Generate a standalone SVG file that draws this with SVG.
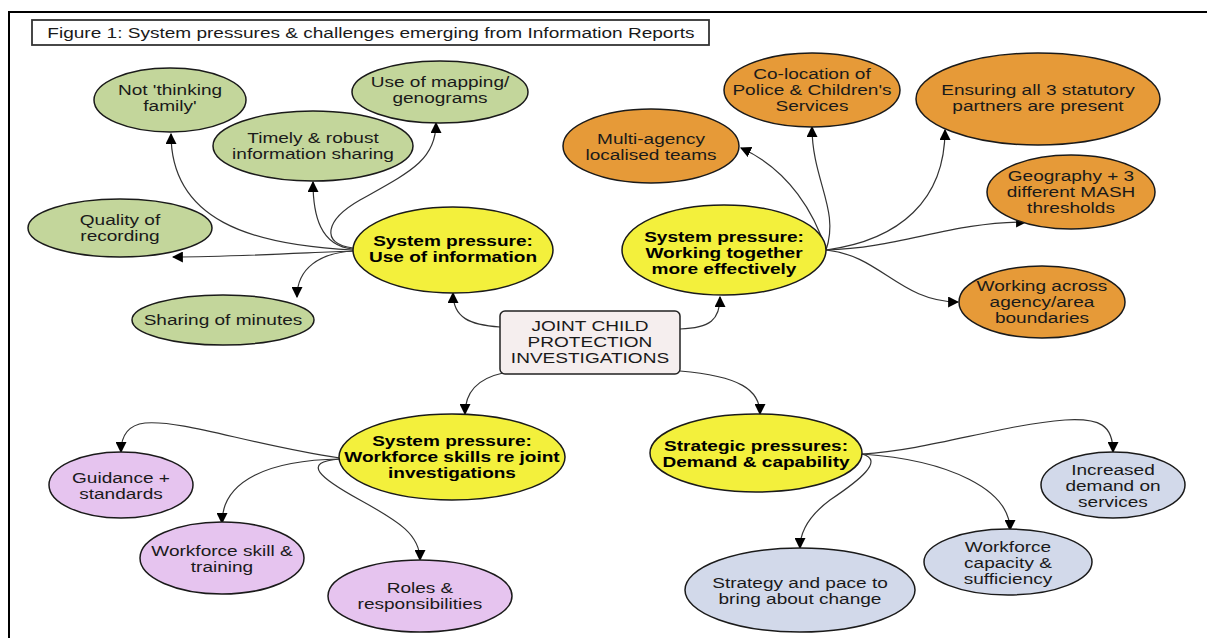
<svg xmlns="http://www.w3.org/2000/svg" width="1207" height="638" viewBox="0 0 1207 638">
<defs>
<marker id="ah" viewBox="0 0 10 10" refX="9" refY="5" markerWidth="11" markerHeight="11" markerUnits="userSpaceOnUse" orient="auto"><path d="M0,0 L10,5 L0,10 z" fill="#000"/></marker>
</defs>
<style>
text{font-family:"Liberation Sans",Arial,sans-serif;font-size:15px;fill:#1a1a1a;text-anchor:middle}
.b{font-weight:bold;fill:#000}
.n{stroke:#1a1a1a;stroke-width:1.5}
.g{fill:#c3d69b}.y{fill:#f3f03c}.o{fill:#e69a38}.p{fill:#e6c4ef}.s{fill:#d2d9ea}
#connectors path{fill:none;stroke:#333;stroke-width:1.2;marker-end:url(#ah)}
</style>
<rect width="1207" height="638" fill="#fff"/>
<path d="M9,638 V12 H1207" fill="none" stroke="#000" stroke-width="2"/>
<g id="title"><rect x="32" y="20" width="677" height="25" fill="#fff" stroke="#333" stroke-width="1.8"/><g transform="scale(1.27 1)"><text x="292.1" y="38">Figure 1: System pressures &amp; challenges emerging from Information Reports</text></g></g>
<g id="connectors">
<path d="M353,250 C250,245 171,220 171,134"/>
<path d="M353,249 C320,246 313,215 313,182"/>
<path d="M353,248 C320,244 325,220 360,200 C410,172 436,160 436,123"/>
<path d="M353,251 C300,253 230,257 173,257"/>
<path d="M353,251 C320,253 297,268 297,297"/>
<path d="M500,327 C470,325 453,318 453,293"/>
<path d="M680,329 C710,328 720,320 720,297"/>
<path d="M503,373 C480,378 465,390 465,414"/>
<path d="M680,371 C740,376 760,390 760,414"/>
<path d="M826,250 C815,215 790,170 741,148"/>
<path d="M826,250 C840,210 812,180 812,127"/>
<path d="M826,250 C900,240 945,200 945,130"/>
<path d="M826,250 C900,248 950,222 1026,222"/>
<path d="M826,250 C880,255 900,302 958,302"/>
<path d="M340,458 C250,445 185,420 145,423 C128,425 121,435 121,452"/>
<path d="M340,459 C270,460 222,480 222,523"/>
<path d="M340,459 C300,462 320,478 360,500 C400,522 420,535 420,560"/>
<path d="M862,454 C930,450 1000,425 1065,420 C1100,418 1113,425 1113,452"/>
<path d="M862,454 C950,460 1010,490 1010,530"/>
<path d="M862,454 C885,460 860,480 830,500 C810,515 800,530 800,548"/>
</g>
<g id="n-notthinking"><ellipse class="n g" cx="170" cy="100" rx="76" ry="32"/><g transform="scale(1.27 1)"><text x="133.86" y="95">Not 'thinking</text><text x="133.86" y="111">family'</text></g></g>
<g id="n-timely"><ellipse class="n g" cx="313" cy="146" rx="100" ry="35"/><g transform="scale(1.27 1)"><text x="246.46" y="143">Timely &amp; robust</text><text x="246.46" y="159">information sharing</text></g></g>
<g id="n-mapping"><ellipse class="n g" cx="440" cy="92" rx="88" ry="31"/><g transform="scale(1.27 1)"><text x="346.46" y="87">Use of mapping/</text><text x="346.46" y="103">genograms</text></g></g>
<g id="n-quality"><ellipse class="n g" cx="120" cy="228" rx="92" ry="29"/><g transform="scale(1.27 1)"><text x="94.49" y="225">Quality of</text><text x="94.49" y="241">recording</text></g></g>
<g id="n-minutes"><ellipse class="n g" cx="223" cy="320" rx="91" ry="25"/><g transform="scale(1.27 1)"><text x="175.59" y="325">Sharing of minutes</text></g></g>
<g id="n-useinfo"><ellipse class="n y" cx="453" cy="250" rx="100" ry="43"/><g transform="scale(1.27 1)"><text class="b" x="356.69" y="246">System pressure:</text><text class="b" x="356.69" y="262">Use of information</text></g></g>
<g id="n-center"><rect x="500" y="311" width="180" height="63" rx="5" fill="#f5eeee" stroke="#222" stroke-width="1.5"/><g transform="scale(1.27 1)"><text x="464.57" y="331">JOINT CHILD</text><text x="464.57" y="347">PROTECTION</text><text x="464.57" y="363">INVESTIGATIONS</text></g></g>
<g id="n-working"><ellipse class="n y" cx="724" cy="250" rx="102" ry="45"/><g transform="scale(1.27 1)"><text class="b" x="570.08" y="242">System pressure:</text><text class="b" x="570.08" y="258">Working together</text><text class="b" x="570.08" y="274">more effectively</text></g></g>
<g id="n-multi"><ellipse class="n o" cx="651" cy="146" rx="88" ry="37"/><g transform="scale(1.27 1)"><text x="512.6" y="144">Multi-agency</text><text x="512.6" y="160">localised teams</text></g></g>
<g id="n-coloc"><ellipse class="n o" cx="812" cy="90" rx="88" ry="37"/><g transform="scale(1.27 1)"><text x="639.37" y="79">Co-location of</text><text x="639.37" y="95">Police &amp; Children's</text><text x="639.37" y="111">Services</text></g></g>
<g id="n-ensuring"><ellipse class="n o" cx="1038" cy="99" rx="122" ry="46"/><g transform="scale(1.27 1)"><text x="817.32" y="95">Ensuring all 3 statutory</text><text x="817.32" y="111">partners are present</text></g></g>
<g id="n-geo"><ellipse class="n o" cx="1071" cy="192" rx="84" ry="37"/><g transform="scale(1.27 1)"><text x="843.31" y="181">Geography + 3</text><text x="843.31" y="197">different MASH</text><text x="843.31" y="213">thresholds</text></g></g>
<g id="n-across"><ellipse class="n o" cx="1042" cy="302" rx="83" ry="36"/><g transform="scale(1.27 1)"><text x="820.47" y="291">Working across</text><text x="820.47" y="307">agency/area</text><text x="820.47" y="323">boundaries</text></g></g>
<g id="n-workforce"><ellipse class="n y" cx="452" cy="457" rx="113" ry="43"/><g transform="scale(1.27 1)"><text class="b" x="355.91" y="446">System pressure:</text><text class="b" x="355.91" y="462">Workforce skills re joint</text><text class="b" x="355.91" y="478">investigations</text></g></g>
<g id="n-strategic"><ellipse class="n y" cx="756" cy="453" rx="106" ry="39"/><g transform="scale(1.27 1)"><text class="b" x="595.28" y="451">Strategic pressures:</text><text class="b" x="595.28" y="467">Demand &amp; capability</text></g></g>
<g id="n-guidance"><ellipse class="n p" cx="121" cy="485" rx="72" ry="33"/><g transform="scale(1.27 1)"><text x="95.28" y="483">Guidance +</text><text x="95.28" y="499">standards</text></g></g>
<g id="n-skill"><ellipse class="n p" cx="222" cy="558" rx="82" ry="36"/><g transform="scale(1.27 1)"><text x="174.8" y="556">Workforce skill &amp;</text><text x="174.8" y="572">training</text></g></g>
<g id="n-roles"><ellipse class="n p" cx="420" cy="596" rx="92" ry="36"/><g transform="scale(1.27 1)"><text x="330.71" y="593">Roles &amp;</text><text x="330.71" y="609">responsibilities</text></g></g>
<g id="n-demand"><ellipse class="n s" cx="1113" cy="485" rx="72" ry="33"/><g transform="scale(1.27 1)"><text x="876.38" y="475">Increased</text><text x="876.38" y="491">demand on</text><text x="876.38" y="507">services</text></g></g>
<g id="n-capacity"><ellipse class="n s" cx="1008" cy="562" rx="84" ry="33"/><g transform="scale(1.27 1)"><text x="793.7" y="552">Workforce</text><text x="793.7" y="568">capacity &amp;</text><text x="793.7" y="584">sufficiency</text></g></g>
<g id="n-strategy"><ellipse class="n s" cx="800" cy="590" rx="115" ry="42"/><g transform="scale(1.27 1)"><text x="629.92" y="588">Strategy and pace to</text><text x="629.92" y="604">bring about change</text></g></g>
</svg>
